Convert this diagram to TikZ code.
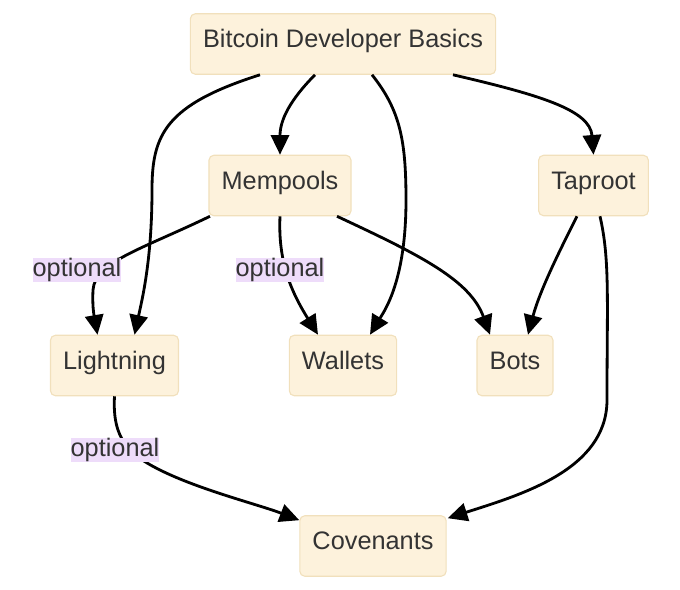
\documentclass[tikz,border=0pt]{standalone}
\usepackage{fontspec}
\setmainfont{Liberation Sans}
\usetikzlibrary{arrows.meta,calc}
\definecolor{boxfill}{HTML}{FDF2DC}
\definecolor{boxline}{HTML}{F1E0BC}
\definecolor{lblfill}{HTML}{EEDCFA}
\definecolor{ink}{HTML}{333333}
\begin{document}
\begin{tikzpicture}[x=0.025cm,y=-0.025cm,
  box/.style={draw=boxline,fill=boxfill,line width=0.8pt,rounded corners=3.5pt,
    minimum height=43pt,inner xsep=9pt,text height=12pt,text depth=7pt,
    text=ink,font=\fontsize{18}{22}\selectfont},
  lbl/.style={fill=lblfill,inner xsep=0pt,inner ysep=0pt,minimum height=17pt,
    text=ink,font=\fontsize{18}{22}\selectfont},
  edge/.style={line width=2pt,-{Triangle[length=14pt,width=13pt]}}]
\useasboundingbox (0,0) rectangle (680,590);
% nodes
\node[box] (basics) at (343,44) {Bitcoin Developer Basics};
\node[box] (mempools) at (280,185.5) {Mempools};
\node[box] (taproot) at (593.5,185.5) {Taproot};
\node[box] (lightning) at (114.5,365.5) {Lightning};
\node[box] (wallets) at (343,365.5) {Wallets};
\node[box] (bots) at (515,365.5) {Bots};
\node[box] (covenants) at (373,546) {Covenants};
% edges
\draw[edge] ($(basics.south)+(-83,0)$) .. controls (165,105) and (152,135) .. (152,190)
  .. controls (152,260) and (142,300) .. ($(lightning.north)+(20,0)$);
\draw[edge] ($(basics.south)+(-28,0)$) .. controls (290,100) and (280,120) .. (mempools.north);
\draw[edge] ($(basics.south)+(29,0)$) .. controls (400,110) and (406,140) .. (406,200)
  .. controls (406,280) and (385,310) .. ($(wallets.north)+(27,0)$);
\draw[edge] ($(basics.south)+(110,0)$) .. controls (540,95) and (590,110) .. (taproot.north);
\draw[edge] ($(mempools.south)+(-70,0)$) .. controls (140,250) and (95,262) .. (93,290)
  .. controls (92,310) and (95,320) .. ($(lightning.north)+(-17,0)$);
\draw[edge] (mempools.south) .. controls (278,260) and (290,290) .. ($(wallets.north)+(-25,0)$);
\draw[edge] ($(mempools.south)+(57,0)$) .. controls (420,255) and (470,280) .. ($(bots.north)+(-25,0)$);
\draw[edge] ($(taproot.south)+(-16.5,0)$) .. controls (560,250) and (540,290) .. ($(bots.north)+(13,0)$);
\draw[edge] ($(taproot.south)+(6.5,0)$) .. controls (610,260) and (607,300) .. (607,400)
  .. controls (607,470) and (520,495) .. ($(covenants.north east)+(1,3)$);
\draw[edge] (lightning.south) .. controls (112,440) and (130,455) .. (160,470)
  .. controls (200,490) and (260,505) .. ($(covenants.north west)+(0,5)$);
% labels
\node[lbl] (opt1) at (77,270) {optional};
\node[lbl] (opt2) at (280,270) {optional};
\node[lbl] (opt3) at (115,450) {optional};
\end{tikzpicture}
\end{document}
